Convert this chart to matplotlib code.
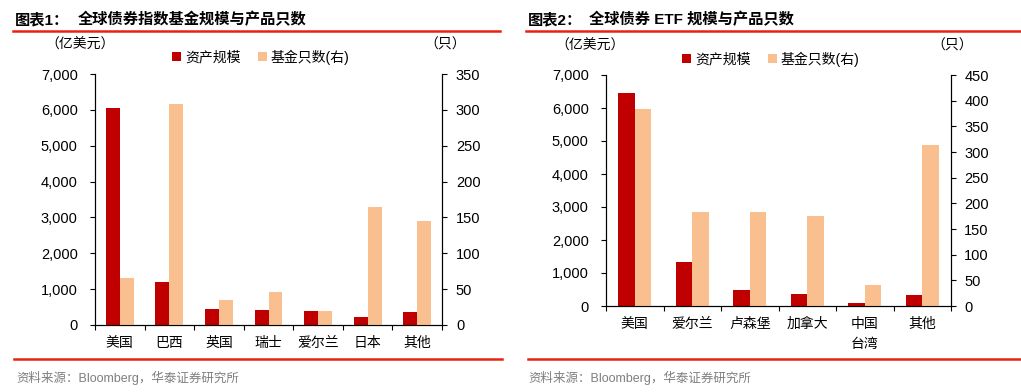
import matplotlib
matplotlib.use("Agg")
import matplotlib.pyplot as plt
from matplotlib.patches import Patch
from matplotlib.lines import Line2D
import numpy as np

plt.rcParams['font.family'] = ['Liberation Sans', 'Noto Sans CJK SC']

# ---------------- data ----------------
cats1 = ["美国", "巴西", "英国", "瑞士", "爱尔兰", "日本", "其他"]
assets1 = [6050, 1190, 435, 420, 390, 225, 355]      # 亿美元
counts1 = [65, 308, 35, 46, 19, 164, 145]           # 只

cats2 = ["美国", "爱尔兰", "卢森堡", "加拿大", "中国\n台湾", "其他"]
assets2 = [6450, 1320, 490, 375, 100, 325]
counts2 = [384, 183, 184, 176, 40, 313]

title1_prefix = "图表1："
title1 = "全球债券指数基金规模与产品只数"
title2_prefix = "图表2："
title2 = "全球债券 ETF 规模与产品只数"
source = "资料来源：Bloomberg，华泰证券研究所"
leg_labels = ["资产规模", "基金只数(右)"]

left_ticks = [0, 1000, 2000, 3000, 4000, 5000, 6000, 7000]
right_ticks1 = [0, 50, 100, 150, 200, 250, 300, 350]
right_ticks2 = [0, 50, 100, 150, 200, 250, 300, 350, 400, 450]

RED = "#C00000"
PEACH = "#F9BF8F"
LINE_RED = "#E8220E"
GRAY = "#7F7F7F"

W, H = 1021, 392
fig = plt.figure(figsize=(W / 100, H / 100), dpi=100)


def fx(px):
    return px / W


def fy(py):
    return 1 - py / H


def panel(rect, cats, assets, counts, rticks, bw, lpad, rpad):
    ax = fig.add_axes(rect)
    ax2 = ax.twinx()
    n = len(cats)
    x = np.arange(n)
    ax.bar(x - bw / 2, assets, width=bw, color=RED, edgecolor="none", zorder=2)
    ax2.bar(x + bw / 2, counts, width=bw, color=PEACH, edgecolor="none", zorder=2)
    ax.set_xlim(-0.5, n - 0.5)
    ax.set_ylim(0, left_ticks[-1])
    ax2.set_ylim(0, rticks[-1])
    ax.set_yticks(left_ticks)
    ax.set_yticklabels([f"{v:,}" for v in left_ticks])
    ax2.set_yticks(rticks)
    ax2.set_yticklabels([str(v) for v in rticks])
    ax.set_xticks(x)
    ax.set_xticklabels(cats, fontsize=10, linespacing=1.5)
    ax.set_xticks(np.arange(n + 1) - 0.5, minor=True)
    ax.tick_params(axis="x", which="major", length=0, pad=8)
    ax.tick_params(axis="x", which="minor", length=3.5, width=0.8, direction="out")
    ax.tick_params(axis="y", length=3.5, width=0.8, direction="out", labelsize=10.5, pad=lpad)
    ax2.tick_params(axis="y", length=3.5, width=0.8, direction="out", labelsize=10.5, pad=rpad)
    for a in (ax, ax2):
        a.spines["top"].set_visible(False)
        for s in ("left", "right", "bottom"):
            a.spines[s].set_linewidth(0.8)
            a.spines[s].set_color("black")
    return ax, ax2


ax1, ax1r = panel([fx(95), fy(325), fx(442) - fx(95), fy(74) - fy(325)],
                  cats1, assets1, counts1, right_ticks1, 0.28, 9, 6.5)
ax2, ax2r = panel([fx(606), fy(306), fx(951) - fx(606), fy(75) - fy(306)],
                  cats2, assets2, counts2, right_ticks2, 0.29, 9, 6)

# titles
fig.text(fx(15), fy(20), title1_prefix, fontsize=11, fontweight="bold", va="center", ha="left")
fig.text(fx(78), fy(20), title1, fontsize=11, fontweight="bold", va="center", ha="left")
fig.text(fx(528), fy(20), title2_prefix, fontsize=11, fontweight="bold", va="center", ha="left")
fig.text(fx(589), fy(20), title2, fontsize=11, fontweight="bold", va="center", ha="left")

# red rules
for (x0, x1) in [(13, 500), (526, 1021)]:
    fig.add_artist(Line2D([fx(x0), fx(x1)], [fy(31), fy(31)], color=LINE_RED, lw=1.8))
for (x0, x1) in [(14, 502), (528, 1021)]:
    fig.add_artist(Line2D([fx(x0), fx(x1)], [fy(359), fy(359)], color=LINE_RED, lw=1.8))

# unit labels
fig.text(fx(80), fy(45), "（亿美元）", fontsize=10, ha="center", va="center")
fig.text(fx(445), fy(45), "（只）", fontsize=10, ha="center", va="center")
fig.text(fx(590), fy(46), "（亿美元）", fontsize=10, ha="center", va="center")
fig.text(fx(952), fy(46), "（只）", fontsize=10, ha="center", va="center")

# legends
handles = [Patch(facecolor=RED, edgecolor="none"), Patch(facecolor=PEACH, edgecolor="none")]
for cx, cy in [(261, 57), (771, 59)]:
    fig.legend(handles, leg_labels, loc="center", bbox_to_anchor=(fx(cx), fy(cy)),
               ncol=2, frameon=False, fontsize=10, handlelength=0.6, handleheight=0.6,
               handletextpad=0.3, columnspacing=1.3, borderpad=0, borderaxespad=0)

# sources
fig.text(fx(16), fy(378), source, fontsize=9, color=GRAY, ha="left", va="center")
fig.text(fx(528), fy(378), source, fontsize=9, color=GRAY, ha="left", va="center")

fig.savefig("out.png", dpi=100)
